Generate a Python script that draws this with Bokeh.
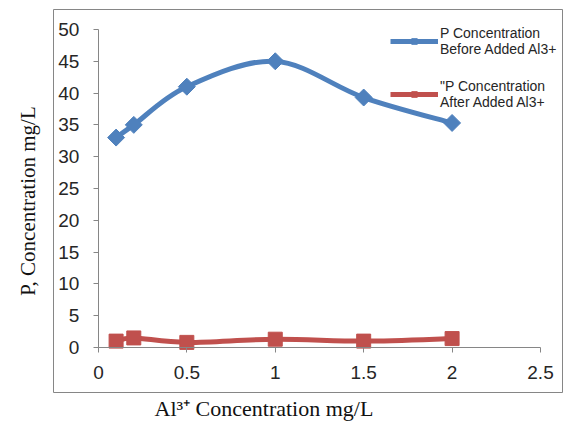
import math
from bokeh.plotting import figure
from bokeh.models import Range1d, Title, Legend, LegendItem, FixedTicker, ColumnDataSource, BoxAnnotation
from bokeh.embed import file_html
from bokeh.resources import INLINE

# data
al_conc = [0.1, 0.2, 0.5, 1.0, 1.5, 2.0]
p_before = [33.0, 35.0, 41.0, 45.0, 39.3, 35.3]
p_after = [1.0, 1.5, 0.8, 1.3, 1.0, 1.4]
x_ticks = [0, 0.5, 1, 1.5, 2, 2.5]
y_ticks = [0, 5, 10, 15, 20, 25, 30, 35, 40, 45, 50]
label_before = "P Concentration\nBefore Added Al3+"
label_after = "\"P Concentration\nAfter Added Al3+"

BLUE = "#4F81BD"
RED = "#C0504D"
GRAY = "#868686"

def smooth_segments(xs, ys):
    n = len(xs)
    d = dict(x0=[], y0=[], x1=[], y1=[], cx0=[], cy0=[], cx1=[], cy1=[])
    for i in range(n - 1):
        i0 = max(i - 1, 0)
        i3 = min(i + 2, n - 1)
        d["x0"].append(xs[i]); d["y0"].append(ys[i])
        d["x1"].append(xs[i + 1]); d["y1"].append(ys[i + 1])
        d["cx0"].append(xs[i] + (xs[i + 1] - xs[i0]) / 6)
        d["cy0"].append(ys[i] + (ys[i + 1] - ys[i0]) / 6)
        d["cx1"].append(xs[i + 1] - (xs[i3] - xs[i]) / 6)
        d["cy1"].append(ys[i + 1] - (ys[i3] - ys[i]) / 6)
    return ColumnDataSource(d)

p = figure(width=563, height=421, output_backend="svg", toolbar_location=None,
           x_range=Range1d(-0.254, 2.630), y_range=Range1d(-7.08, 53.14),
           min_border_left=52, min_border_right=0, min_border_top=9, min_border_bottom=29)
p.background_fill_color = "white"
p.border_fill_color = "white"
p.outline_line_color = GRAY
p.xgrid.visible = False
p.ygrid.visible = False

p.add_layout(BoxAnnotation(fill_alpha=0, line_color=GRAY, line_width=1, level="underlay"))

for ax in (p.xaxis[0], p.yaxis[0]):
    ax.fixed_location = 0
    ax.axis_line_color = GRAY
    ax.major_tick_line_color = GRAY
    ax.minor_tick_line_color = None
    ax.major_tick_in = 0
    ax.major_tick_out = 5
    ax.major_label_text_font = "Liberation Sans"
    ax.major_label_text_font_size = "19px"
    ax.major_label_text_color = "#262626"
p.xaxis.ticker = FixedTicker(ticks=x_ticks)
p.yaxis.ticker = FixedTicker(ticks=y_ticks)
p.xaxis.bounds = (0, 2.5)
p.yaxis.bounds = (0, 50)
p.xaxis.major_label_standoff = 14
p.yaxis.major_label_standoff = 14

sb = smooth_segments(al_conc, p_before)
sa = smooth_segments(al_conc, p_after)
p.bezier(x0="x0", y0="y0", x1="x1", y1="y1", cx0="cx0", cy0="cy0", cx1="cx1", cy1="cy1",
         source=sb, line_color=BLUE, line_width=5)
p.bezier(x0="x0", y0="y0", x1="x1", y1="y1", cx0="cx0", cy0="cy0", cx1="cx1", cy1="cy1",
         source=sa, line_color=RED, line_width=5)
mb = p.scatter(al_conc, p_before, marker="square", angle=math.pi / 4, size=12,
               fill_color=BLUE, line_color=BLUE)
ma = p.scatter(al_conc, p_after, marker="square", size=14, fill_color=RED, line_color=RED)

nan = float("nan")
lb = p.line(x=[nan, nan], y=[nan, nan], line_color=BLUE, line_width=5)
la = p.line(x=[nan, nan], y=[nan, nan], line_color=RED, line_width=5)

legend = Legend(items=[LegendItem(label=label_before, renderers=[lb, mb]),
                       LegendItem(label=label_after, renderers=[la, ma])],
                location=(337, 282), margin=0, padding=3, spacing=21,
                glyph_width=48, glyph_height=14, label_standoff=2,
                label_text_font="Liberation Sans", label_text_font_size="14px",
                label_text_line_height=1.35,
                label_text_color="#262626", border_line_color=None,
                background_fill_alpha=0)
p.add_layout(legend)

p.add_layout(Title(text="Al\u00b3\u207a Concentration mg/L", align="left", offset=101, standoff=2,
                   text_font="Liberation Serif", text_font_size="22px",
                   text_font_style="normal", text_color="#111111"), "below")
p.add_layout(Title(text="P, Concentration mg/L", align="center", standoff=27,
                   text_font="Liberation Serif", text_font_size="21px",
                   text_font_style="normal", text_color="#111111"), "left")

open("out.html", "w").write(file_html(p, INLINE))
